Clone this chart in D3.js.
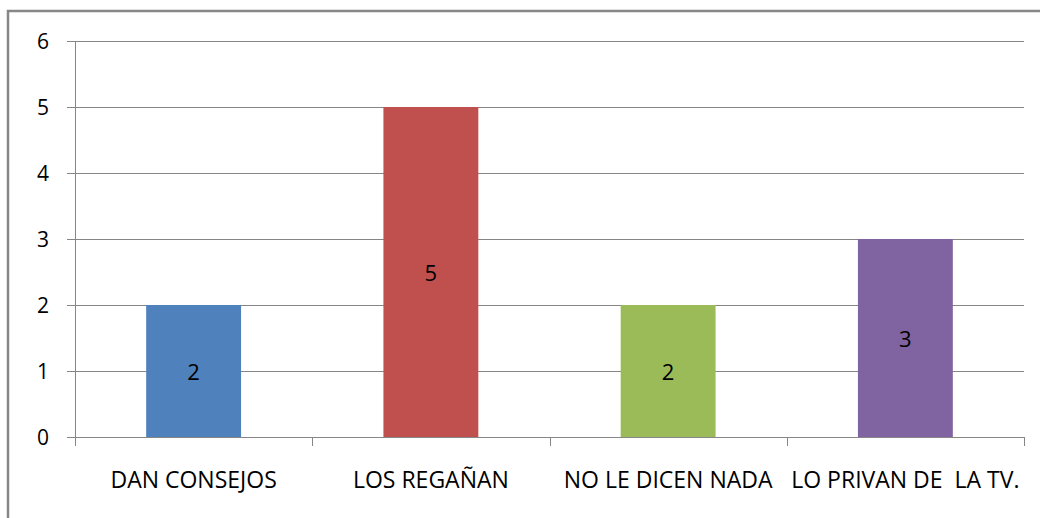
<!DOCTYPE html>
<html>
<head>
<meta charset="utf-8">
<script src="https://cdn.jsdelivr.net/npm/d3@7"></script>
<style>
  body { margin: 0; background: #fff; }
  svg { display: block; }
  text { font-family: "Open Sans", Lato, sans-serif; fill: #000; }
</style>
</head>
<body>
<div id="chart"></div>
<script>
const categories = ["DAN CONSEJOS", "LOS REGAÑAN", "NO LE DICEN NADA", "LO PRIVAN DE  LA TV."];
const values = [2, 5, 2, 3];
const colors = ["#4F81BD", "#C0504D", "#9BBB59", "#8064A2"];
const yTicks = [0, 1, 2, 3, 4, 5, 6];

const width = 1040;
const height = 518;
const plot = { left: 75, right: 1024, top: 41, bottom: 437 };

const svg = d3.select("#chart").append("svg")
  .attr("width", width)
  .attr("height", height);

// outer frame (runs off the right/bottom edge)
svg.append("rect")
  .attr("x", 8).attr("y", 11)
  .attr("width", 1100).attr("height", 600)
  .attr("fill", "none")
  .attr("stroke", "#878787")
  .attr("stroke-width", 2.5);

const x = d3.scaleBand()
  .domain(categories)
  .range([plot.left, plot.right])
  .paddingInner(0.6)
  .paddingOuter(0.3);

const xOuter = d3.scaleBand()
  .domain(categories)
  .range([plot.left, plot.right]);

const y = d3.scaleLinear()
  .domain([0, 6])
  .range([plot.bottom, plot.top]);

// gridlines
svg.append("g")
  .selectAll("line")
  .data(yTicks)
  .join("line")
  .attr("x1", plot.left - 8)
  .attr("x2", plot.right)
  .attr("y1", d => Math.round(y(d)) + 0.5)
  .attr("y2", d => Math.round(y(d)) + 0.5)
  .attr("stroke", "#868686")
  .attr("stroke-width", 1);

// y axis line
svg.append("line")
  .attr("x1", plot.left + 0.5).attr("x2", plot.left + 0.5)
  .attr("y1", plot.top).attr("y2", plot.bottom + 9)
  .attr("stroke", "#868686");

// y tick labels
svg.append("g")
  .selectAll("text")
  .data(yTicks)
  .join("text")
  .attr("x", 49)
  .attr("y", d => y(d))
  .attr("dy", "0.36em")
  .attr("text-anchor", "end")
  .style("font-size", "21px")
  .text(d => d);

// x category ticks
svg.append("g")
  .selectAll("line")
  .data(categories)
  .join("line")
  .attr("x1", d => Math.round(xOuter(d) + xOuter.bandwidth()) + 0.5)
  .attr("x2", d => Math.round(xOuter(d) + xOuter.bandwidth()) + 0.5)
  .attr("y1", plot.bottom)
  .attr("y2", plot.bottom + 9)
  .attr("stroke", "#868686");

// bars
svg.append("g")
  .selectAll("rect")
  .data(values)
  .join("rect")
  .attr("x", (d, i) => x(categories[i]))
  .attr("y", d => y(d))
  .attr("width", x.bandwidth())
  .attr("height", d => y(0) - y(d))
  .attr("fill", (d, i) => colors[i]);

// value labels, centred in the bar
svg.append("g")
  .selectAll("text")
  .data(values)
  .join("text")
  .attr("x", (d, i) => x(categories[i]) + x.bandwidth() / 2)
  .attr("y", d => (y(d) + y(0)) / 2)
  .attr("dy", "0.4em")
  .attr("text-anchor", "middle")
  .style("font-size", "22px")
  .text(d => d);

// category labels
svg.append("g")
  .selectAll("text")
  .data(categories)
  .join("text")
  .attr("x", d => xOuter(d) + xOuter.bandwidth() / 2)
  .attr("y", 488)
  .attr("text-anchor", "middle")
  .style("font-size", "23px")
  .style("white-space", "pre")
  .text(d => d);
</script>
</body>
</html>
